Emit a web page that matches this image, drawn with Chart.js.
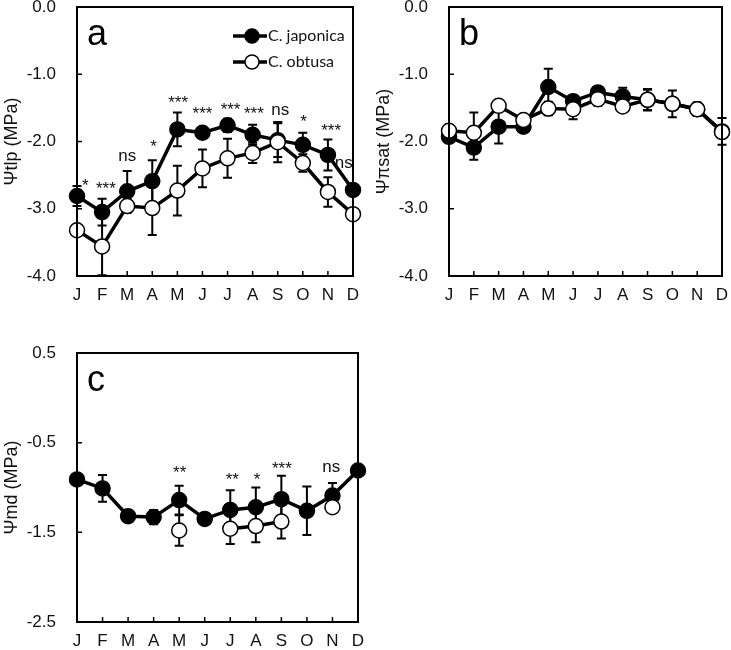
<!DOCTYPE html>
<html>
<head>
<meta charset="utf-8">
<script src="https://cdn.jsdelivr.net/npm/chart.js@4"></script>
<style>
  body { margin: 0; background: #fff; width: 731px; height: 650px; position: relative; overflow: hidden; }
  .panel { position: absolute; }
</style>
</head>
<body>
<div class="panel" style="left:0;top:-10px;width:365px;height:320px"><canvas id="chartA"></canvas></div>
<div class="panel" style="left:372px;top:-10px;width:359px;height:320px"><canvas id="chartB"></canvas></div>
<div class="panel" style="left:0;top:336px;width:370px;height:320px"><canvas id="chartC"></canvas></div>
<script>
const months = ['J', 'F', 'M', 'A', 'M', 'J', 'J', 'A', 'S', 'O', 'N', 'D'];

// panel a : turgor loss point
const tlpJaponica    = [-2.81, -3.05, -2.74, -2.59, -1.82, -1.87, -1.76, -1.90, -1.98, -2.05, -2.20, -2.72];
const tlpJaponicaErr = [0.15, 0.20, 0.30, 0.31, 0.25, 0.05, 0.10, 0.15, 0.25, 0.18, 0.23, 0.05];
const tlpObtusa      = [-3.32, -3.56, -2.96, -2.99, -2.73, -2.40, -2.25, -2.17, -2.01, -2.32, -2.75, -3.08];
const tlpObtusaErr   = [0.05, 0.43, 0.10, 0.40, 0.37, 0.28, 0.29, 0.15, 0.30, 0.13, 0.22, 0.05];
const tlpSig      = ['*', '***', 'ns', '*', '***', '***', '***', '***', 'ns', '*', '***', 'ns'];
const tlpSigY     = [-2.60, -2.65, -2.22, -2.03, -1.37, -1.53, -1.47, -1.53, -1.54, -1.65, -1.79, -2.32];
const tlpSigShift = [0.33, 0.15, 0, 0.05, 0.03, 0, 0.12, 0.05, 0.1, 0.03, 0.13, -0.37];

// panel b : osmotic potential at full turgor
const osmJaponica    = [-1.93, -2.09, -1.78, -1.78, -1.19, -1.40, -1.27, -1.33, -1.38, -1.44, -1.52, -1.85];
const osmJaponicaErr = [0.05, 0.18, 0.25, 0.05, 0.27, 0.05, 0.05, 0.13, 0.15, 0.05, 0.05, 0.20];
const osmObtusa      = [-1.84, -1.87, -1.47, -1.68, -1.51, -1.52, -1.37, -1.48, -1.38, -1.44, -1.52, -1.86];
const osmObtusaErr   = [0.05, 0.30, 0.05, 0.05, 0.10, 0.15, 0.10, 0.05, 0.16, 0.20, 0.10, 0.05];

// panel c : midday water potential
const mdJaponica    = [-0.91, -1.01, -1.32, -1.33, -1.14, -1.35, -1.25, -1.22, -1.13, -1.26, -1.09, -0.81];
const mdJaponicaErr = [0, 0.15, 0, 0.08, 0.16, 0.05, 0.22, 0.22, 0.26, 0.27, 0.14, 0.05];
const mdObtusa      = [null, null, null, null, -1.48, null, -1.46, -1.43, -1.38, null, -1.22, null];
const mdObtusaErr   = [0, 0, 0, 0, 0.17, 0, 0.17, 0.18, 0.19, 0, 0, 0];
const mdSig      = ['', '', '', '', '**', '', '**', '*', '***', '', 'ns', ''];
const mdSigY     = [0, 0, 0, 0, -0.80, 0, -0.87, -0.87, -0.75, 0, -0.78, 0];
const mdSigShift = [0, 0, 0, 0, 0.02, 0, 0.08, 0.05, 0.02, 0, -0.05, 0];

const yTicksAB = [0, -1, -2, -3, -4];
const yTicksC = [0.5, -0.5, -1.5, -2.5];

const FONT = "'Liberation Sans', Arial, sans-serif";
const INK = '#111';

const errorBars = {
  id: 'errorBars',
  beforeDatasetsDraw(chart) {
    const ctx = chart.ctx;
    const y = chart.scales.y;
    ctx.save();
    ctx.strokeStyle = '#000';
    ctx.lineWidth = 2;
    chart.data.datasets.forEach((ds, di) => {
      const meta = chart.getDatasetMeta(di);
      ds.errors.forEach((e, i) => {
        const v = ds.data[i];
        if (v === null || !e) return;
        const px = meta.data[i].x;
        const top = y.getPixelForValue(v + e);
        const bot = y.getPixelForValue(v - e);
        ctx.beginPath();
        ctx.moveTo(px, top); ctx.lineTo(px, bot);
        ctx.moveTo(px - 4.5, top); ctx.lineTo(px + 4.5, top);
        ctx.moveTo(px - 4.5, bot); ctx.lineTo(px + 4.5, bot);
        ctx.stroke();
      });
    });
    ctx.restore();
  }
};

const frame = {
  id: 'frame',
  afterDraw(chart, args, opts) {
    const ctx = chart.ctx;
    const a = chart.chartArea;
    const x = chart.scales.x, y = chart.scales.y;
    ctx.save();
    ctx.strokeStyle = '#000';
    ctx.lineWidth = 2;
    ctx.strokeRect(a.left, a.top, a.right - a.left, a.bottom - a.top);
    ctx.lineWidth = 1.5;
    ctx.beginPath();
    y.ticks.forEach(t => {
      const py = y.getPixelForValue(t.value);
      ctx.moveTo(a.left, py); ctx.lineTo(a.left + 5, py);
    });
    months.forEach((m, i) => {
      const px = x.getPixelForValue(i);
      ctx.moveTo(px, a.bottom); ctx.lineTo(px, a.bottom - 5);
    });
    ctx.stroke();
    // panel letter
    ctx.fillStyle = '#000';
    ctx.font = '36px ' + FONT;
    ctx.textBaseline = 'alphabetic';
    ctx.fillText(opts.letter, a.left + 10, a.top + 38);
    // significance labels
    if (opts.sig) {
      ctx.font = '17px ' + FONT;
      ctx.textAlign = 'center';
      ctx.textBaseline = 'middle';
      ctx.fillStyle = INK;
      const step = x.getPixelForValue(1) - x.getPixelForValue(0);
      opts.sig.forEach((s, i) => {
        if (!s) return;
        const px = x.getPixelForValue(i) + opts.sigShift[i] * step;
        const py = y.getPixelForValue(opts.sigY[i]);
        ctx.fillText(s, px, py + (s.startsWith('*') ? 4 : 0));
      });
    }
    // legend
    if (opts.legend) {
      ctx.textAlign = 'left';
      ctx.textBaseline = 'middle';
      ctx.font = "16px Lato, 'Open Sans', sans-serif";
      chart.data.datasets.forEach((ds, k) => {
        const ly = a.top + 29 + k * 26;
        const lx = a.left + 156;
        ctx.strokeStyle = '#000';
        ctx.lineWidth = 3.5;
        ctx.beginPath(); ctx.moveTo(lx, ly); ctx.lineTo(lx + 34, ly); ctx.stroke();
        ctx.beginPath(); ctx.arc(lx + 19, ly, 7, 0, Math.PI * 2);
        ctx.fillStyle = ds.pointBackgroundColor; ctx.fill();
        ctx.lineWidth = 1.5; ctx.stroke();
        ctx.fillStyle = INK;
        ctx.fillText(ds.label, lx + 35, ly);
      });
    }
    ctx.restore();
  }
};

function series(label, data, errors, fill, order) {
  return {
    label: label,
    data: data,
    errors: errors,
    order: order,
    borderColor: '#000',
    borderWidth: 3.5,
    pointRadius: 7.5,
    pointBackgroundColor: fill,
    pointBorderColor: '#000',
    pointBorderWidth: 1.5,
    tension: 0,
    spanGaps: false,
  };
}

function makePanel(id, datasets, yMin, yMax, yTicks, title, rightPad, extra) {
  new Chart(document.getElementById(id), {
    type: 'line',
    data: { labels: months, datasets: datasets },
    plugins: [errorBars, frame],
    options: {
      responsive: true,
      maintainAspectRatio: false,
      animation: false,
      layout: { padding: { top: 17, right: rightPad, bottom: 0, left: 0 } },
      plugins: {
        legend: { display: false },
        tooltip: { enabled: false },
        frame: extra,
      },
      scales: {
        x: {
          type: 'category',
          offset: false,
          grid: { display: false, drawTicks: false },
          border: { display: false },
          ticks: { color: INK, font: { family: FONT, size: 17 }, padding: 9, maxRotation: 0, autoSkip: false },
          afterFit: s => { s.height = 34; s.paddingLeft = 0; s.paddingRight = 0; },
        },
        y: {
          min: yMin,
          max: yMax,
          grid: { display: false, drawTicks: false },
          border: { display: false },
          ticks: { color: INK, font: { family: FONT, size: 17 }, padding: 21, callback: v => v.toFixed(1) },
          afterBuildTicks: s => { s.ticks = yTicks.map(v => ({ value: v })); },
          afterFit: s => { s.width = 77; s.paddingTop = 0; s.paddingBottom = 0; },
          title: { display: true, text: title, color: INK, font: { family: FONT, size: 18 }, padding: { top: 1, bottom: 0 } },
        },
      },
    },
  });
}

makePanel('chartA', [
  series('C. japonica', tlpJaponica, tlpJaponicaErr, '#000', 1),
  series('C. obtusa', tlpObtusa, tlpObtusaErr, '#fff', 0),
], -4, 0, yTicksAB, 'Ψtlp (MPa)', 12, { letter: 'a', sig: tlpSig, sigY: tlpSigY, sigShift: tlpSigShift, legend: true });

makePanel('chartB', [
  series('C. japonica', osmJaponica, osmJaponicaErr, '#000', 1),
  series('C. obtusa', osmObtusa, osmObtusaErr, '#fff', 0),
], -4, 0, yTicksAB, 'Ψπsat (MPa)', 8, { letter: 'b' });

makePanel('chartC', [
  series('C. japonica', mdJaponica, mdJaponicaErr, '#000', 1),
  series('C. obtusa', mdObtusa, mdObtusaErr, '#fff', 0),
], -2.5, 0.5, yTicksC, 'Ψmd (MPa)', 12, { letter: 'c', sig: mdSig, sigY: mdSigY, sigShift: mdSigShift });
</script>
</body>
</html>
